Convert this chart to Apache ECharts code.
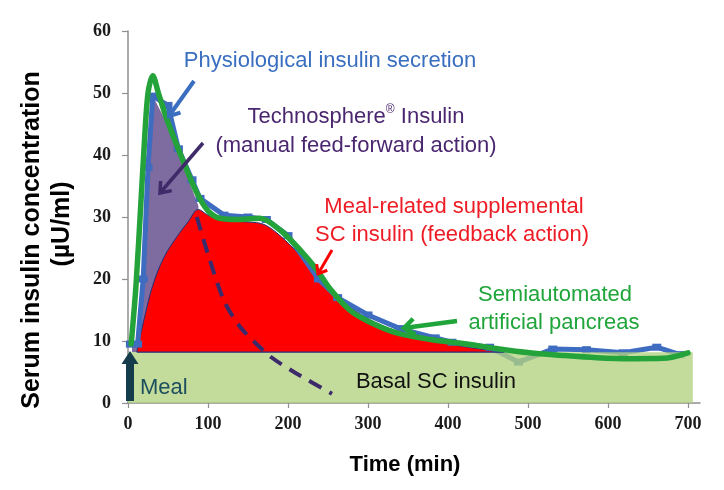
<!DOCTYPE html>
<html><head><meta charset="utf-8">
<script src="https://cdn.jsdelivr.net/npm/echarts@6/dist/echarts.min.js"></script>
<style>html,body{margin:0;padding:0;background:#fff}#c{width:724px;height:490px}</style>
</head><body><div id="c"></div>
<script>
// ---- data ----
const xTicks = [0, 100, 200, 300, 400, 500, 600, 700];
const yTicks = [0, 10, 20, 30, 40, 50, 60];
const basalLevel = 8.2;
const basalX = [0, 706];
// Physiological insulin secretion (blue, with markers)
const physX = [3, 12, 19, 25, 31, 50, 63, 80, 90, 120, 150, 173, 200, 238, 262, 300, 340, 384, 405, 452, 488, 531, 573, 619, 661, 690];
const physY = [9.5, 9.5, 20, 38, 49.5, 48, 41, 36, 33, 30.3, 30, 29.6, 27, 20, 17, 14.2, 12, 10.5, 9.8, 9, 6.6, 8.7, 8.6, 8.1, 9, 7.8];
// Technosphere insulin (purple area top)
const techX = [5, 12, 19, 25, 31, 45, 63, 80, 88];
const techY = [9.5, 9.5, 20, 38, 49.5, 46, 40, 34.5, 31.8];
// Meal-related supplemental SC insulin (red area top)
const redX = [11, 19, 31, 45, 61, 75, 88, 100, 120, 150, 170, 190, 215, 240, 270, 300, 340, 380, 420, 470];
const redY = [8.2, 12.9, 19, 23.5, 26.8, 29.2, 31.2, 30.3, 29.4, 29.2, 28.8, 27, 23.8, 19.8, 16.2, 13.6, 11.4, 10.1, 9.1, 8.2];
// Semiautomated artificial pancreas (green line)
const greenX = [4, 10, 16, 20, 25, 31, 38, 49, 69, 86, 100, 115, 140, 165, 190, 215, 236, 252, 277, 300, 336, 380, 419, 460, 502, 540, 586, 630, 669, 700];
const greenY = [9.5, 19, 32, 41, 50, 52.8, 50, 45.6, 39, 33.9, 31, 29.8, 29.6, 29.8, 27.9, 24.7, 21.5, 18.5, 15, 13.2, 11.3, 10.2, 9.6, 8.8, 8.1, 7.7, 7.3, 7.15, 7.2, 8.1];
// Technosphere decay (dashed)
const dashX = [86, 100, 120, 140, 160, 180, 210, 255];
const dashY = [30, 24, 16.5, 12.3, 9.6, 7.3, 4.8, 1.5];

const zip = (xs, ys) => xs.map((x, i) => [x, ys[i]]);

const chart = echarts.init(document.getElementById('c'), null, {renderer: 'canvas'});

function arrowEls(x1, y1, x2, y2, color, w, hl) {
  const ang = Math.atan2(y2 - y1, x2 - x1);
  const a1 = ang + Math.PI * 0.79, a2 = ang - Math.PI * 0.79;
  return [
    {type: 'polyline', shape: {points: [[x1, y1], [x2, y2]]}, style: {stroke: color, lineWidth: w, fill: null}, z: 50},
    {type: 'polyline', shape: {points: [[x2 + hl * Math.cos(a1), y2 + hl * Math.sin(a1)], [x2, y2], [x2 + hl * Math.cos(a2), y2 + hl * Math.sin(a2)]]},
     style: {stroke: color, lineWidth: w, fill: null, lineJoin: 'miter'}, z: 50}
  ];
}
function txt(x, y, text, color, size, extra) {
  return Object.assign({type: 'text', x: x, y: y, z: 60,
    style: {text: text, fill: color, font: (size || 22) + 'px "Liberation Sans", Arial, sans-serif', align: 'center', verticalAlign: 'middle'}}, extra || {});
}

const labelFont = {fontFamily: '"Liberation Serif", "Times New Roman", serif', fontWeight: 'bold', fontSize: 18, color: '#1a1a1a'};
const axisColor = '#8f8f8f';

const option = {
  animation: false,
  backgroundColor: '#fff',
  grid: {left: 128, right: 24, top: 31, bottom: 87, containLabel: false},
  xAxis: {
    type: 'value', min: 0, max: 715, interval: 100,
    axisLine: {show: true, lineStyle: {color: axisColor, width: 1.5}},
    axisTick: {show: true, length: 5, customValues: xTicks, lineStyle: {color: axisColor, width: 1.2}},
    axisLabel: Object.assign({margin: 12, customValues: xTicks}, labelFont),
    splitLine: {show: false}
  },
  yAxis: {
    type: 'value', min: 0, max: 60, interval: 10,
    axisLine: {show: true, lineStyle: {color: axisColor, width: 1.5}},
    axisTick: {show: true, length: 6, lineStyle: {color: axisColor, width: 1.2}},
    axisLabel: Object.assign({margin: 17}, labelFont),
    splitLine: {show: false}
  },
  series: [
    {name: 'Technosphere', type: 'line', data: zip(techX, techY), symbol: 'none', silent: true,
     lineStyle: {width: 0}, areaStyle: {color: '#7e6b9f', opacity: 1, origin: basalLevel}, z: 2},
    {name: 'Supplemental', type: 'line', data: zip(redX, redY), symbol: 'none', smooth: 0.35, silent: true,
     lineStyle: {color: '#22307a', width: 1}, areaStyle: {color: '#ff0000', opacity: 1, origin: basalLevel}, z: 3},
    {name: 'Physiological', type: 'line', data: zip(physX, physY), symbol: 'rect', symbolSize: [9, 7], silent: true,
     itemStyle: {color: '#3d6cc0'}, lineStyle: {color: '#3d6cc0', width: 5}, z: 4},
    {name: 'Basal', type: 'line', data: zip(basalX, [basalLevel, basalLevel]), symbol: 'none', silent: true,
     lineStyle: {width: 0}, areaStyle: {color: 'rgba(178,210,128,0.78)', opacity: 1, origin: 'start'}, z: 5},
    {name: 'BasalEdge', type: 'line', data: zip([11, 470], [basalLevel, basalLevel]), symbol: 'none', silent: true,
     lineStyle: {color: '#22307a', width: 1.2}, z: 6},
    {name: 'Decay', type: 'line', data: zip(dashX, dashY), symbol: 'none', smooth: 0.3, silent: true,
     lineStyle: {color: '#3d2a6b', width: 4, type: [14, 9]}, z: 7},
    {name: 'Artificial pancreas', type: 'line', data: zip(greenX, greenY), symbol: 'none', smooth: 0.3, silent: true,
     lineStyle: {color: '#24a33a', width: 5.5, cap: 'round'}, z: 8}
  ],
  graphic: [
    // Meal arrow
    {type: 'polygon', z: 40, shape: {points: [[126, 401], [126, 364], [121.5, 364], [130, 351], [138.5, 364], [134, 364], [134, 401]]}, style: {fill: '#143c4a'}},
    {type: 'text', x: 140, y: 388, z: 60, style: {text: 'Meal', fill: '#1d4e5e', font: '22px "Liberation Sans", Arial, sans-serif', align: 'left', verticalAlign: 'middle'}},
    txt(436, 382, 'Basal SC insulin', '#111111', 22),
    txt(330, 61, 'Physiological insulin secretion', '#3a6fc0', 22),
    {type: 'text', x: 356, y: 117, z: 60, style: {
      text: '{a|Technosphere}{s|®}{a| Insulin}', align: 'center', verticalAlign: 'middle',
      rich: {a: {fill: '#4b2670', font: '22px "Liberation Sans", Arial, sans-serif', lineHeight: 26},
             s: {fill: '#4b2670', font: '12px "Liberation Sans", Arial, sans-serif', lineHeight: 14, verticalAlign: 'top'}}}},
    txt(356, 146, '(manual feed-forward action)', '#4b2670', 22),
    txt(454, 207, 'Meal-related supplemental', '#ee1c25', 22),
    txt(452, 235, 'SC insulin (feedback action)', '#ee1c25', 22),
    txt(555, 295, 'Semiautomated', '#1fa53a', 22),
    txt(554, 323, 'artificial pancreas', '#1fa53a', 22),
    // axis titles
    {type: 'text', x: 32, y: 240, rotation: Math.PI / 2, z: 60, style: {text: 'Serum insulin concentration', fill: '#000', font: 'bold 25px "Liberation Sans", Arial, sans-serif', align: 'center', verticalAlign: 'middle'}},
    {type: 'text', x: 62, y: 224, rotation: Math.PI / 2, z: 60, style: {text: '(µU/ml)', fill: '#000', font: 'bold 25px "Liberation Sans", Arial, sans-serif', align: 'center', verticalAlign: 'middle'}},
    {type: 'text', x: 405, y: 465, z: 60, style: {text: 'Time (min)', fill: '#000', font: 'bold 22px "Liberation Sans", Arial, sans-serif', align: 'center', verticalAlign: 'middle'}},
    // arrows
    ...arrowEls(194, 81, 169, 116, '#3a6fc0', 4, 12),
    ...arrowEls(203, 143, 160, 193, '#3f2a6a', 3.5, 12),
    ...arrowEls(332, 250, 318, 274, '#ff0000', 3, 10),
    ...arrowEls(457, 321, 404, 328, '#1fa53a', 4.5, 13)
  ]
};
chart.setOption(option);
</script>
</body></html>
